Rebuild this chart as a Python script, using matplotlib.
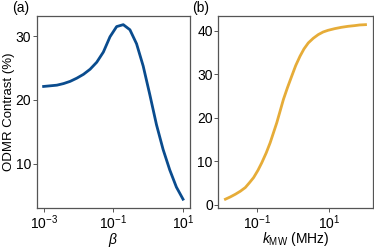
import matplotlib
matplotlib.use('Agg')
import matplotlib.pyplot as plt
import numpy as np

plt.rcParams['font.family'] = ['Liberation Sans', 'DejaVu Sans']
plt.rcParams['mathtext.fontset'] = 'custom'
plt.rcParams['mathtext.rm'] = 'Liberation Sans'
plt.rcParams['mathtext.it'] = 'Liberation Sans:italic'
plt.rcParams['font.size'] = 10

# (a) contrast vs beta, 22 log-spaced samples from 1e-3 to 1e1
beta = np.logspace(-3, 1, 22)
contrast_beta = [22.1, 22.2, 22.3, 22.55, 22.9, 23.4, 24.0, 24.8, 25.9, 27.5, 29.9,
                 31.5, 31.8, 31.0, 28.8, 25.3, 20.8, 16.1, 12.2, 9.0, 6.3, 4.4]

# (b) contrast vs k_MW (MHz)
k_mw = [0.0133, 0.0183, 0.0252, 0.0346, 0.0475, 0.0614, 0.0809, 0.107, 0.137,
        0.181, 0.234, 0.289, 0.357, 0.442, 0.546, 0.705, 0.929, 1.20, 1.58,
        2.04, 2.69, 3.69, 5.07, 6.97, 9.59, 14.7, 22.4, 34.3, 52.4, 71.9, 105.0]
contrast_k = [1.30, 1.83, 2.44, 3.13, 3.97, 5.04, 6.26, 7.94, 9.69,
              11.91, 14.27, 16.56, 18.85, 21.53, 24.20, 26.87, 29.54, 31.98, 34.12,
              35.80, 37.18, 38.24, 39.08, 39.69, 40.08, 40.46, 40.76, 40.99, 41.15,
              41.30, 41.37]

blue = '#0a4c8e'
gold = '#e6ac38'
spine_col = '#555555'

fig = plt.figure(figsize=(3.74, 2.49), dpi=100)
ax1 = fig.add_axes([0.098, 0.165, 0.410, 0.771])
ax2 = fig.add_axes([0.584, 0.165, 0.412, 0.771])

ax1.plot(beta, contrast_beta, color=blue, lw=2.0)
ax2.plot(k_mw, contrast_k, color=gold, lw=2.0)

for ax in (ax1, ax2):
    ax.set_xscale('log')
    for s in ax.spines.values():
        s.set_color(spine_col)
        s.set_linewidth(0.9)
    ax.tick_params(which='major', direction='out', length=3, width=0.7,
                   color=spine_col, labelsize=10, pad=1)
    ax.tick_params(which='minor', direction='out', length=1.8, width=0.5,
                   color='#999999')

ax1.set_xticks([1e-3, 1e-1, 1e1])
ax1.set_yticks([10, 20, 30])
ax1.set_xlabel(r'$\it{\beta}$', labelpad=-0.5)
ax1.set_ylabel('ODMR Contrast (%)', fontsize=9.5, labelpad=0.5)

ax2.set_xticks([1e-1, 1e1])
ax2.set_yticks([0, 10, 20, 30, 40])
ax2.set_xlabel(r'$k_{\mathrm{MW}}$ (MHz)', labelpad=-1.5)

fig.text(12 / 374, 1 - 1 / 249, '(a)', va='top', ha='left', fontsize=10)
fig.text(192 / 374, 1 - 1 / 249, '(b)', va='top', ha='left', fontsize=10)

fig.savefig('out.png', dpi=100)
